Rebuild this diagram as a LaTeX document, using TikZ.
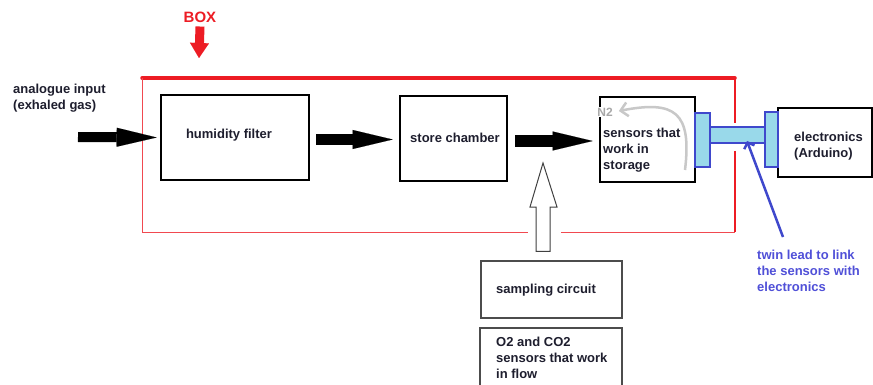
\documentclass[tikz,border=0pt]{standalone}
\usepackage{fontspec}
\setmainfont{Liberation Sans}
\usetikzlibrary{arrows.meta,calc}
\definecolor{boxred}{HTML}{ED1C24}
\definecolor{plugblue}{HTML}{3F48CC}
\definecolor{plugfill}{HTML}{99D9EA}
\definecolor{leadtext}{HTML}{5050D8}
\definecolor{ink}{HTML}{1E1E2E}
\definecolor{ntwogray}{HTML}{A8A8A8}
\definecolor{curvegray}{HTML}{C8C8C8}
\begin{document}
\begin{tikzpicture}[x=1pt,y=-1pt,
 lbl/.style={font=\fontsize{13}{16}\selectfont\bfseries, text=ink, inner sep=0pt, align=left},
 blockbox/.style={draw=black, line width=2.6pt, inner sep=0pt},
 thinbox/.style={draw=black!70, line width=1.4pt, inner sep=0pt},
 plug/.style={draw=plugblue, fill=plugfill, line width=2.5pt, inner sep=0pt},
 bigarrow/.style={draw=black, line width=10pt, -{Triangle[length=40pt,width=19pt,line width=0.1pt]}},
]
\clip (0,0) rectangle (873,385);
\fill[white] (0,0) rectangle (873,385);

% red container
\draw[boxred, line width=3.5pt, line cap=round] (142,78) -- (735,78);
\draw[boxred!80, line width=1pt] (142,78) -- (142,232) -- (528,232);
\draw[boxred!80, line width=1pt] (561,232) -- (735,232);
\draw[boxred, line width=2pt] (735,78) -- (735,123);
\draw[boxred, line width=2pt] (735,151) -- (735,232);

% blocks
\node[blockbox, minimum width=148pt, minimum height=85pt] (hum) at (235,137.5) {};
\node[blockbox, minimum width=107pt, minimum height=85pt] (store) at (453.5,138.5) {};
\node[blockbox, minimum width=95pt, minimum height=85pt] (sens) at (647.5,139.5) {};
\node[blockbox, minimum width=94pt, minimum height=69pt] (elec) at (825,142.5) {};
\node[thinbox, minimum width=141pt, minimum height=57pt] (samp) at (551.5,289.5) {};
\node[thinbox, minimum width=142pt, minimum height=67pt] (flow) at (551,361.5) {};

% twin lead
\node[plug, minimum width=55pt, minimum height=16pt] (cable) at (737.5,135) {};
\node[plug, minimum width=15pt, minimum height=54pt] (lplug) at (702.5,140) {};
\node[plug, minimum width=13pt, minimum height=55pt] (rplug) at (771.5,139.5) {};

% labels
\node[font=\fontsize{15}{18}\selectfont\bfseries, text=boxred, inner sep=0pt] (boxlbl) at (200,17) {BOX};
\node[lbl, anchor=west] (inlbl) at (13,98) {analogue input\\(exhaled gas)};
\node[lbl] (humlbl) at (229,135) {humidity filter};
\node[lbl] (storelbl) at (455,137.5) {store chamber};
\node[lbl, anchor=west] (senslbl) at (603,150.5) {sensors that\\work in\\storage};
\node[lbl, anchor=west] (eleclbl) at (794,146) {electronics\\(Arduino)};
\node[lbl, anchor=west] (samplbl) at (496,290.5) {sampling circuit};
\node[lbl, anchor=west] (flowlbl) at (496,357.5) {O2 and CO2\\sensors that work\\in flow};
\node[lbl, text=leadtext, anchor=west] (leadlbl) at (757,270.5) {twin lead to link\\the sensors with\\electronics};
\node[font=\fontsize{12}{14}\selectfont\bfseries, text=ntwogray, fill=white, inner sep=1pt] (ntwo) at (605,112) {N2};

% BOX arrow
\coordinate (boxtip) at (199,58);
\draw[draw=boxred, line width=9pt, -{Triangle[length=15pt,width=19pt,line width=0.1pt]}] ($(boxlbl.south)+(0,4)$) -- (boxtip);

% flow arrows
\coordinate (instart) at (78,137);
\draw[bigarrow] (instart) -- ($(hum.west)+(-3,0)$);
\draw[bigarrow, line width=11pt] ($(hum.east)+(6,2)$) -- ($(store.west)+(-6,1)$);
\draw[bigarrow, line width=12pt] ($(store.east)+(7,2.5)$) -- ($(sens.west)+(-6,1.5)$);

% open arrow from sampling circuit
\coordinate (oatip) at (543,163);
\draw[black!75, line width=1pt, fill=white, line join=miter]
  ($(samp.north)+(-15.5,-9)$) -- (536,207) -- (530,207) -- (oatip) -- (557,207) -- (550,207) -- ($(samp.north)+(-1.5,-9)$) -- cycle;

% N2 curve
\coordinate (curvestart) at (685,170);
\draw[curvegray, line width=2.5pt, -{Straight Barb[length=7pt,width=14pt]}]
  (curvestart) .. controls (692,112) and (675,100) .. ($(ntwo.east)+(5,-1)$);

% pointer to twin lead
\coordinate (leadstart) at (783,237);
\coordinate (leadtip) at (747,141);
\draw[plugblue, line width=2.5pt, -{Straight Barb[length=5pt,width=11pt]}] (leadstart) -- (leadtip);
\end{tikzpicture}
\end{document}
